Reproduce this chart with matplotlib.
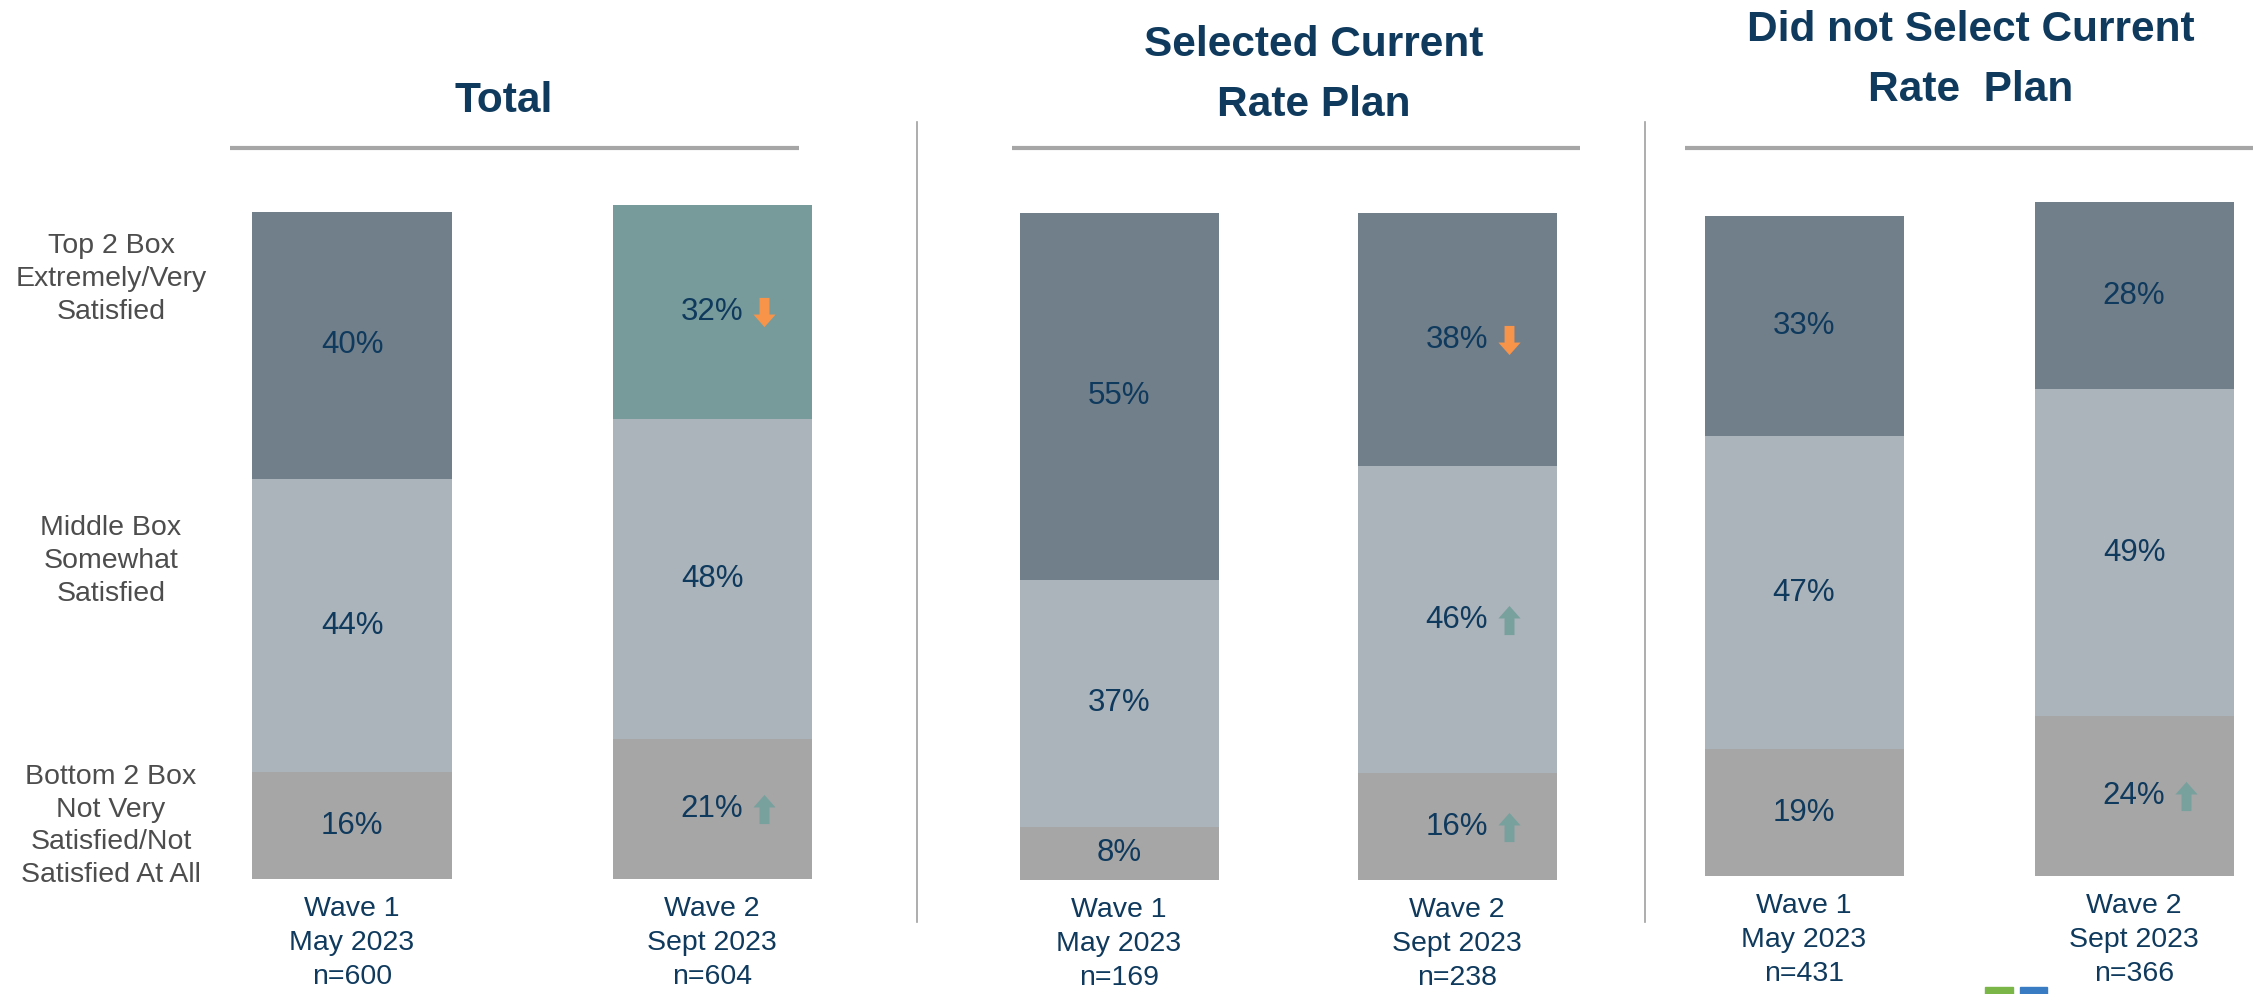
import matplotlib
matplotlib.use("Agg")
import matplotlib.pyplot as plt
import matplotlib.transforms as mtransforms
from matplotlib.path import Path
from matplotlib.lines import Line2D
from matplotlib.patches import Rectangle

plt.rcParams['font.family'] = ['Liberation Sans', 'DejaVu Sans']

# Survey results: satisfaction with rate plan, two waves per group
panel_titles = ["Total", "Selected Current\nRate Plan", "Did not Select Current\nRate  Plan"]
wave_labels = ["Wave 1\nMay 2023", "Wave 2\nSept 2023"]
n_sizes = [[600, 604], [169, 238], [431, 366]]

bottom2 = [[16, 21], [8, 16], [19, 24]]
middle = [[44, 48], [37, 46], [47, 49]]
top2 = [[40, 32], [55, 38], [33, 28]]

# significant change vs wave 1
top2_change = [[None, "down"], [None, "down"], [None, None]]
middle_change = [[None, None], [None, "up"], [None, None]]
bottom2_change = [[None, "up"], [None, "up"], [None, "up"]]

row_labels = ["Top 2 Box\nExtremely/Very\nSatisfied",
              "Middle Box\nSomewhat\nSatisfied",
              "Bottom 2 Box\nNot Very\nSatisfied/Not\nSatisfied At All"]

NAVY = "#0f3a5d"
TOP_C = "#717f8b"
TOP_HI = "#779b9b"
MID_C = "#abb3bb"
BOT_C = "#a6a6a6"
RULE_C = "#a6a6a6"
UP_C = "#78a19e"
DOWN_C = "#f7944a"

W, H = 2256, 994
fig = plt.figure(figsize=(W / 100, H / 100), dpi=100)


def fx(px):
    return px / W


def fy(py):
    return 1 - py / H


# block arrow marker
arrow_up = Path([(-0.34, -1), (0.34, -1), (0.34, 0.14), (0.76, 0.14), (0, 1),
                 (-0.76, 0.14), (-0.34, 0.14), (-0.34, -1)],
                [Path.MOVETO] + [Path.LINETO] * 6 + [Path.CLOSEPOLY])
arrow_down = Path([(x, -y) for x, y in arrow_up.vertices], arrow_up.codes)

# bar centres per panel (pixels) and baselines
centres = [(352, 712), (1119, 1457), (1804, 2134)]
baselines = [879, 880, 876]
bar_px = 199
unit_px = 6.67
ymax = 102

for p, (c0, c1) in enumerate(centres):
    step = c1 - c0
    ax = fig.add_axes([fx(c0 - step / 2), fy(baselines[p]), fx(2 * step),
                       unit_px * ymax / H])
    ax.set_xlim(-0.5, 1.5)
    ax.set_ylim(0, ymax)
    ax.axis("off")
    width = bar_px / step
    xs = [0, 1]

    top_colors = [TOP_HI if (p == 0 and i == 1) else TOP_C for i in xs]
    ax.bar(xs, bottom2[p], width=width, color=BOT_C)
    ax.bar(xs, middle[p], width=width, bottom=bottom2[p], color=MID_C)
    mid_tops = [b + m for b, m in zip(bottom2[p], middle[p])]
    ax.bar(xs, top2[p], width=width, bottom=mid_tops, color=top_colors)

    shift = ax.transData + mtransforms.ScaledTranslation(0.52, 0, fig.dpi_scale_trans)
    for i in xs:
        segs = [(bottom2[p][i], 0, bottom2_change[p][i]),
                (middle[p][i], bottom2[p][i], middle_change[p][i]),
                (top2[p][i], mid_tops[i], top2_change[p][i])]
        for val, start, chg in segs:
            yc = start + val / 2
            ax.text(i, yc, f"{val}%", ha="center", va="center",
                    fontsize=22.5, color=NAVY)
            if chg:
                ax.plot(i, yc, transform=shift, linestyle="none",
                        marker=arrow_up if chg == "up" else arrow_down,
                        markersize=21, markeredgewidth=0,
                        color=UP_C if chg == "up" else DOWN_C)
        ax.annotate(f"{wave_labels[i]}\nn={n_sizes[p][i]}", xy=(i, 0),
                    xytext=(0, -12), textcoords="offset points",
                    ha="center", va="top", fontsize=20.5, color=NAVY,
                    linespacing=1.42, annotation_clip=False)

# panel headings and rules under them
title_pos = [(504, 101), (1314, 75), (1971, 60)]
rules = [(230, 799), (1012, 1580), (1685, 2253)]
for title, (tx, ty), (r0, r1) in zip(panel_titles, title_pos, rules):
    fig.text(fx(tx), fy(ty), title, ha="center", va="center", fontsize=30.5,
             fontweight="bold", color=NAVY, linespacing=1.62)
    fig.add_artist(Line2D([fx(r0), fx(r1)], [fy(148), fy(148)],
                          color=RULE_C, linewidth=3, solid_capstyle="butt"))

# vertical separators between panels
for vx in (917, 1645):
    fig.add_artist(Line2D([fx(vx), fx(vx)], [fy(122), fy(922)],
                          color="#a0a0a0", linewidth=1.2))

# row labels on the left
for label, ly in zip(row_labels, (279, 561, 826)):
    fig.text(fx(111), fy(ly), label, ha="center", va="center", fontsize=20.5,
             color="#4d4d4d", linespacing=1.34)

# corner logo, cut off by the page edge
fig.add_artist(Rectangle((fx(1985), 0), fx(28), 7 / H, color="#7ab648",
                         transform=fig.transFigure))
fig.add_artist(Rectangle((fx(2020), 0), fx(27), 7 / H, color="#3a7cc4",
                         transform=fig.transFigure))

fig.savefig("out.png", dpi=100)
